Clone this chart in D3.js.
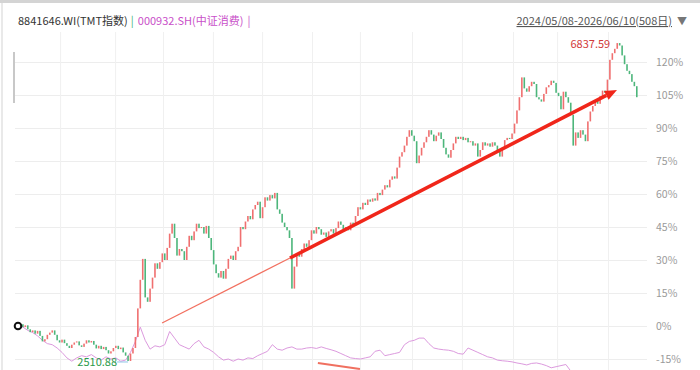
<!DOCTYPE html>
<html><head><meta charset="utf-8">
<script src="https://cdn.jsdelivr.net/npm/d3@7"></script>
<style>html,body{margin:0;padding:0;background:#fff;} svg{display:block;font-family:"Noto Sans CJK SC","Noto Sans",sans-serif;}</style>
</head><body><svg id="c" width="700" height="370"></svg>
<script>
// TMT index: cumulative change (%) vs first close, one value every 2 trading days
const closePct = [
0,0.8,-0.5,0.3,-1.5,-2.8,-2.0,-3.5,-2.2,-4.5,
-7.0,-6.0,-4.0,-3.0,-2.0,-4.0,-6.5,-7.5,-6.2,-7.8,
-9.0,-10.0,-8.5,-7.5,-7.0,-8.8,-9.5,-8.0,-6.5,-7.5,
-6.8,-8.5,-10.2,-9.0,-10.5,-9.5,-11.0,-12.5,-11.5,-10.0,
-9.0,-10.5,-9.8,-12.0,-13.5,-15.9,-12.5,-10.0,-5.0,8.0,
21.0,30.5,13.0,11.0,17.0,22.0,28.5,26.0,29.0,33.0,
30.0,35.5,42.0,46.5,40.0,32.0,35.0,34.0,30.0,36.0,
41.0,39.0,43.0,46.5,44.5,45.0,42.0,45.5,40.0,34.5,
28.0,24.0,22.0,25.0,21.5,26.0,30.5,32.0,30.0,34.0,
36.0,45.0,44.0,47.5,50.0,48.5,53.0,55.0,56.5,49.0,
54.0,58.5,57.0,59.5,58.0,60.5,53.0,51.0,47.0,45.0,
43.5,40.0,17.0,27.0,33.0,31.5,35.0,37.5,36.0,39.0,
43.5,42.0,45.0,44.0,41.5,42.5,40.5,43.0,44.0,42.0,
44.5,47.5,46.0,44.0,45.0,43.5,47.0,46.0,50.0,54.0,
53.0,56.0,55.0,57.5,56.5,58.0,57.0,60.5,59.5,62.0,
64.0,63.0,66.5,68.0,67.0,72.0,77.0,79.0,82.0,86.0,
89.0,86.5,84.0,74.0,77.5,81.0,83.5,86.0,89.0,87.0,
84.0,86.5,88.0,85.0,81.0,78.0,76.5,80.0,83.0,86.0,
85.0,86.0,84.5,85.5,83.5,84.0,82.0,83.0,77.0,80.0,
83.5,82.0,83.0,81.5,83.5,82.0,80.0,77.0,81.0,84.5,
85.5,85.0,87.5,92.0,98.0,104.0,113.0,108.0,106.5,109.0,
111.0,110.0,104.0,103.0,102.0,105.5,108.5,109.5,111.5,110.5,
106.0,104.5,98.5,106.5,104.0,101.5,96.0,82.0,88.0,85.5,
89.0,87.0,84.0,93.0,97.5,100.0,102.5,101.0,104.5,107.0,
106.0,112.0,121.0,124.0,126.0,128.6,127.5,123.0,119.0,116.0,
114.5,111.0,109.0,104.0
];
// 000932.SH cumulative change (%), one value every 2 points of closePct
const pinkPct = [
0,-0.5,-2.0,-3.0,-4.5,-6.5,-8.0,-8.5,-10.0,-12.0,
-14.5,-16.0,-14.5,-13.5,-14.0,-13.0,-14.5,-15.5,-14.0,-15.0,
-14.5,-16.0,-15.5,-12.0,-7.0,-0.5,-6.5,-10.5,-9.0,-9.5,
-8.5,-2.5,-5.5,-8.5,-9.5,-10.5,-8.0,-6.5,-9.5,-10.5,
-12.0,-14.0,-15.5,-15.0,-16.0,-15.0,-15.5,-14.5,-14.8,-13.5,
-12.5,-11.5,-8.5,-10.5,-11.0,-10.0,-9.5,-10.5,-10.5,-10.0,
-9.8,-10.2,-9.5,-10.2,-10.8,-11.5,-12.5,-13.5,-14.5,-14.8,
-15.0,-14.5,-14.0,-11.5,-11.0,-13.5,-13.0,-12.5,-12.0,-8.5,
-7.0,-6.5,-5.5,-5.5,-8.0,-10.0,-10.5,-10.8,-11.0,-11.5,
-12.5,-12.8,-10.0,-11.0,-12.0,-13.0,-14.0,-14.5,-15.5,-15.8,
-16.0,-16.3,-16.8,-17.2,-17.7,-17.0,-16.8,-17.3,-18.0,-19.0,
-18.5,-18.0,-17.5,-20.5,-22.0
];
const pinkStep = 2;
const yTicks = [-15,0,15,30,45,60,75,90,105,120];
const monthStarts = [17.2,39.7,59.3,79.7,99.8,120.2,139.8,161.1,181.5,202.4,220.4,241.2];
const titleMain = "8841646.WI(TMT指数)";
const titleComp = "000932.SH(中证消费)";
const rangeText = "2024/05/08-2026/06/10(508日)";
const maxLabel = "6837.59";
const minLabel = "2510.88";
const arrowPts = [[58.9,1.4],[111.2,30.9],[244.9,107.3]];
const trend2 = [[122.6,-16.8],[139.8,-19.5]];

const svg = d3.select("#c");
const x = d3.scaleLinear().domain([0, closePct.length-1]).range([18, 636.8]);
const y = d3.scaleLinear().domain([-15,120]).range([359,62]);

// frame
svg.append("rect").attr("x",0).attr("y",0).attr("width",700).attr("height",3).attr("fill","#d4d4d4");
svg.append("line").attr("x1",2).attr("x2",2).attr("y1",3).attr("y2",370).attr("stroke","#e2e2e2").attr("stroke-width",1.5);
svg.append("rect").attr("x",13).attr("y",52).attr("width",2).attr("height",51).attr("fill","#c8c8c8");

// grid
const gy = svg.append("g").attr("transform","translate(15,0)")
  .call(d3.axisRight(y).tickValues(yTicks).tickSize(632).tickFormat(""));
gy.select(".domain").remove();
gy.selectAll("line").attr("stroke","#ededed");
const gx = svg.append("g").attr("transform","translate(0,370)")
  .call(d3.axisBottom(x).tickValues(monthStarts).tickSize(-338).tickFormat(""));
gx.select(".domain").remove();
gx.selectAll("line").attr("stroke","#f0f0f0");

// y labels
const ya = svg.append("g").attr("transform","translate(656,0)")
  .call(d3.axisRight(y).tickValues(yTicks).tickSize(0).tickPadding(0).tickFormat(d=>d+"%"));
ya.select(".domain").remove();
ya.selectAll("text").attr("fill","#9a9a9a").style("font-size","10.5px").style("font-family",'"Noto Sans CJK SC","Noto Sans",sans-serif');

const defs = svg.append("defs");
defs.append("clipPath").attr("id","plot").append("rect").attr("x",15).attr("y",30).attr("width",632).attr("height",340);
const plot = svg.append("g").attr("clip-path","url(#plot)");

// comparison line
const pinkLine = d3.line().x((d,k)=>x(k*pinkStep)).y(d=>y(d));
plot.append("path").datum(pinkPct).attr("d",pinkLine).attr("fill","none").attr("stroke","#dc9ade").attr("stroke-width",1);

// candles
const cw = 1.6;
plot.selectAll("rect.k").data(closePct).join("rect").attr("class","k")
  .attr("x",(d,i)=>x(i)-cw/2)
  .attr("y",(d,i)=>{const o=i?closePct[i-1]:d; return y(Math.max(o,d));})
  .attr("width",cw)
  .attr("height",(d,i)=>{const o=i?closePct[i-1]:d; return Math.max(1, Math.abs(y(o)-y(d)));})
  .attr("fill",(d,i)=>{const o=i?closePct[i-1]:d; return d>=o?"#f07070":"#4db67b";});

// arrow annotation
const P = arrowPts.map(p=>[x(p[0]),y(p[1])]);
plot.append("line").attr("x1",P[0][0]).attr("y1",P[0][1]).attr("x2",P[1][0]).attr("y2",P[1][1])
  .attr("stroke","#f27060").attr("stroke-width",1.2);
const ang = Math.atan2(P[2][1]-P[1][1], P[2][0]-P[1][0]);
const hl = 12, hw = 5;
const bx = P[2][0]-hl*Math.cos(ang), by = P[2][1]-hl*Math.sin(ang);
plot.append("line").attr("x1",P[1][0]).attr("y1",P[1][1]).attr("x2",bx).attr("y2",by)
  .attr("stroke","#f0261a").attr("stroke-width",3.5);
plot.append("polygon").attr("points",[
  [P[2][0],P[2][1]],
  [bx+hw*Math.sin(ang), by-hw*Math.cos(ang)],
  [bx-hw*Math.sin(ang), by+hw*Math.cos(ang)]].map(p=>p.join(",")).join(" "))
  .attr("fill","#f0261a");
const T = trend2.map(p=>[x(p[0]),y(p[1])]);
plot.append("line").attr("x1",T[0][0]).attr("y1",T[0][1]).attr("x2",T[1][0]).attr("y2",T[1][1])
  .attr("stroke","#f07060").attr("stroke-width",2);

// start marker
svg.append("circle").attr("cx",x(0)).attr("cy",y(0)).attr("r",3.3).attr("fill","#fff").attr("stroke","#111").attr("stroke-width",2);

// max / min labels
const iMax = closePct.indexOf(d3.max(closePct));
const iMin = closePct.indexOf(d3.min(closePct));
svg.append("text").attr("x",x(iMax)-7).attr("y",y(closePct[iMax])+5).attr("text-anchor","end")
  .attr("fill","#d23a3a").style("font-size","11px").text(maxLabel);
svg.append("line").attr("x1",x(iMin)-11).attr("x2",x(iMin)).attr("y1",y(closePct[iMin])+1).attr("y2",y(closePct[iMin])+1)
  .attr("stroke","#8ec3e6").attr("stroke-width",1);
svg.append("text").attr("x",x(iMin)-11).attr("y",y(closePct[iMin])+5).attr("text-anchor","end")
  .attr("fill","#2a9a4a").style("font-size","11px").text(minLabel);

// header
const h = svg.append("g").style("font-size","11px");
const t1 = h.append("text").attr("x",18).attr("y",25).attr("fill","#333").text(titleMain);
let cx = 18 + t1.node().getComputedTextLength();
const t2 = h.append("text").attr("x",cx+3).attr("y",25).attr("fill","#3cb371").text("|");
cx = cx+3+t2.node().getComputedTextLength();
const t3 = h.append("text").attr("x",cx+4).attr("y",25).attr("fill","#c94fc9").text(titleComp);
cx = cx+4+t3.node().getComputedTextLength();
h.append("text").attr("x",cx+4).attr("y",25).attr("fill","#c94fc9").text("|");
h.append("text").attr("x",672).attr("y",25).attr("text-anchor","end").attr("fill","#555")
  .style("text-decoration","underline").text(rangeText);
h.append("text").attr("x",677).attr("y",25).attr("fill","#777").style("font-size","10px").text("▼");
</script></body></html>
